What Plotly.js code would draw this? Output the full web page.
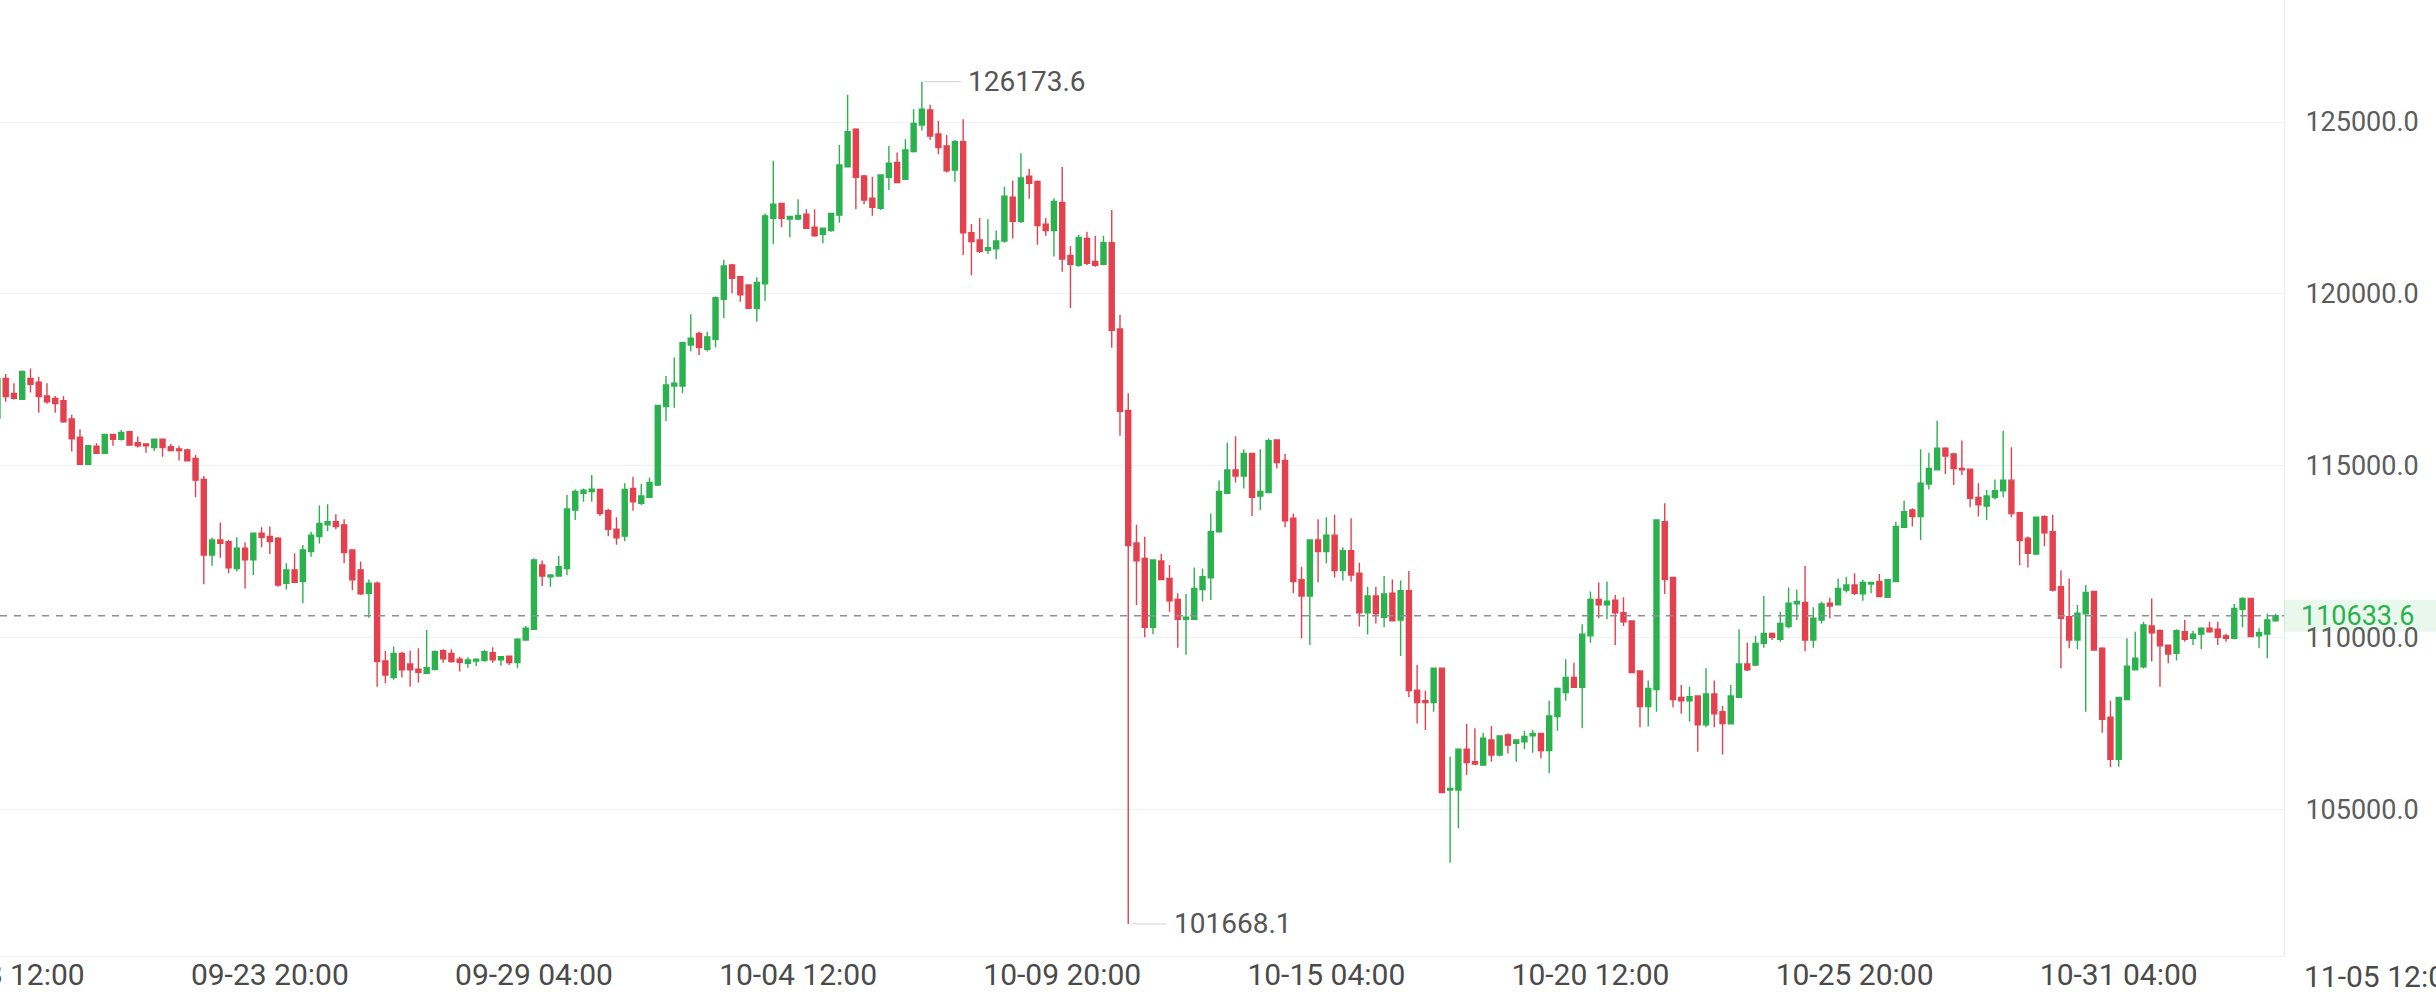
<!DOCTYPE html>
<html>
<head>
<meta charset="utf-8">
<script src="https://cdn.plot.ly/plotly-3.0.1.min.js"></script>
<style>
  html, body { margin: 0; padding: 0; background: #ffffff; overflow: hidden; }
  #chart { width: 2436px; height: 992px; }
</style>
</head>
<body>
<div id="chart"></div>
<script>
// 4-hour candles, first candle 2025-09-18 08:00
const START_TIME = "2025-09-18T08:00:00Z";
const INTERVAL_HOURS = 4;

const OPEN = [
116390,117540,117100,116930,117540,117430,117030,116960,116890,116360,
115830,115040,115570,115360,115910,115770,115990,115670,115630,115530,
115770,115550,115490,115460,115210,114600,112400,112840,112790,112010,
112600,112260,113040,112940,112890,111580,111970,111630,112500,112940,
113280,113370,113280,112550,111970,111290,111580,109320,108840,109540,
109230,109080,108960,109080,109620,109540,109370,109250,109320,109330,
109560,109350,109460,109270,109930,110240,112110,111770,111790,112010,
113710,114200,114250,114310,113690,113150,112950,114340,113910,114080,
114440,116720,117320,117320,118510,118850,118390,118680,119840,120840,
120500,120260,119580,120290,122200,122630,122180,122180,122320,121940,
121730,121840,122290,123700,124790,123430,122780,122490,123390,123820,
123330,124140,124910,125350,124650,124300,123600,124430,121780,121570,
121270,121310,121540,122810,122110,123420,123270,122030,121840,122660,
121120,120830,121610,120940,120860,121490,118980,116610,112750,112300,
110300,112230,111720,111110,110530,110530,111400,111740,113080,114200,
114880,114700,115360,114120,114220,115750,115150,113470,111680,111210,
112840,112500,112980,111950,112530,111870,110720,111210,110590,111290,
110510,111360,108470,108160,108110,109110,105560,105560,106750,106390,
106290,107020,106580,107170,106920,106970,107140,107210,106710,107700,
108400,108840,108550,110050,111110,110950,111090,110720,110480,109030,
107990,108490,113370,111750,108260,108160,108300,107460,108360,107840,
107490,108260,109230,109200,109830,110120,109950,110320,110980,111020,
109930,110510,111000,110950,111380,111530,111270,111560,111630,111170,
111630,113210,113710,113520,114470,114880,115510,115340,114920,114900,
114080,113830,114080,114270,114580,113630,112890,112430,113520,113080,
111480,110610,109930,110690,111340,109690,107680,106460,108200,109060,
109150,110340,110200,109780,109540,110170,109980,110100,110270,110240,
110050,109980,110820,111140,110050,110100,110490
];

const HIGH = [
117700,117670,117400,117770,117830,117590,117400,117030,117030,116480,
116060,115600,115650,115920,115910,116040,116020,115850,115650,115770,
115770,115630,115580,115490,115310,114700,112910,113350,112840,112920,
112770,113050,113210,113230,112920,112160,112450,112690,113080,113840,
113880,113590,113440,112570,112210,111690,111630,109610,109740,109590,
109620,109690,110220,109620,109660,109660,109440,109430,109370,109640,
109720,109460,109480,109980,110340,112310,112240,111840,112370,114150,
114310,114340,114730,114340,113750,113500,114490,114680,114470,114660,
116770,117610,118150,118610,119410,118900,118900,119920,120990,120870,
120520,120280,120480,122340,123870,122650,122250,122750,122460,122460,
121910,122360,124330,125790,124820,123460,123410,123480,124300,124110,
124500,125370,126173.6,125500,125040,124620,124480,125080,122030,122210,
122170,121840,123120,123300,124090,123640,123300,122210,122780,123690,
121390,121720,121810,121690,121690,122440,119390,117110,113280,112930,
112280,112430,112110,111290,111270,112040,112010,113610,114570,115670,
115860,115480,115380,115480,115800,115770,115340,113610,112060,112860,
113440,113500,113570,112630,113470,112180,111480,111480,111790,111690,
111660,111940,109200,108450,109130,109130,106540,106780,107490,107360,
107230,107430,107140,107210,107020,107280,107310,107230,108160,108550,
109370,109270,110390,111340,111600,111630,111240,111170,110500,109030,
108750,113440,113910,111760,108620,108570,108300,109110,108750,108010,
108620,110240,109850,110050,111210,110150,110750,111460,111400,112080,
110880,111050,111160,111720,111770,111870,111680,111620,111850,111680,
113370,113980,113760,115480,115380,116310,115540,115380,115730,114900,
114490,114290,114600,116020,115540,113660,112940,113520,113560,113570,
111950,111720,110950,111530,111360,109720,108160,108280,109980,110170,
110460,111140,110240,109800,110240,110510,110200,110300,110460,110460,
110110,110980,111170,111160,110270,110690,110690
];

const LOW = [
116300,116860,116930,116910,117130,116540,116800,116540,116250,115410,
115040,115020,115360,115340,115580,115730,115580,115530,115380,115430,
115260,115410,115150,115120,114080,111550,112090,112320,111870,111920,
111430,111820,112630,112430,111480,111400,111600,111000,112350,112740,
113100,113150,112160,111380,111240,110580,108570,108670,108770,108840,
108570,108690,108940,109040,109270,109270,109010,109120,109170,109300,
109270,109180,109200,109110,109910,110220,111500,111480,111770,111820,
113420,113950,113950,113540,112950,112700,112800,113690,113860,114050,
114410,116300,116690,117110,118320,118220,118320,118440,119290,120020,
119770,119580,119190,119800,121440,121940,121650,122150,121910,121660,
121470,121810,122070,123680,122460,122610,122270,122440,123020,123220,
123310,124110,124750,124480,124060,123530,123260,121130,120540,121190,
121160,121010,121490,121610,122060,122770,121430,121690,121090,120640,
119590,120790,120830,120790,120830,118430,115870,101668.1,110950,110010,
110100,111690,110750,109700,109500,110510,111050,111090,113060,114180,
114510,114340,113540,113710,114200,114920,113210,111290,109980,109780,
111610,112160,111750,111660,111630,110320,110090,110410,110300,110480,
109460,108260,107500,107310,107840,105470,103450,104450,106000,106290,
106260,106390,106540,106630,106390,106750,106650,106490,106050,107290,
108160,108550,107360,109850,110560,110530,109780,110340,108980,107390,
107410,107840,111270,107970,107780,107550,106680,107390,107390,106600,
107480,108240,109030,109170,109700,109930,109880,110270,110510,109600,
109700,110410,110560,110930,111310,111240,111070,111290,111170,111170,
111620,113180,113230,112840,114310,114860,114760,114440,114730,113790,
113520,113420,114020,114080,113500,112110,112040,112400,112660,111340,
109110,109690,109660,107840,109620,107230,106230,106240,108180,109040,
109100,109300,108570,109250,109330,109880,109780,109660,110140,109780,
109880,109950,110300,110010,109690,109400,110460
];

const CLOSE = [
117540,117010,116960,117740,117370,117010,116860,116810,116280,115780,
115040,115580,115360,115910,115770,115970,115600,115580,115580,115770,
115530,115440,115440,115140,114580,112400,112840,112740,112030,112600,
112260,113040,112920,112790,111530,111970,111610,112550,112980,113320,
113370,113230,112470,111680,111270,111580,109300,108910,109540,109060,
109060,108990,109120,109590,109380,109300,109280,109350,109370,109590,
109350,109440,109270,109950,110270,112260,111790,111820,112060,113740,
114250,114290,114320,113610,113150,112900,114310,113950,114120,114510,
116750,117350,117400,118580,118710,118440,118750,119890,120810,120450,
119970,119580,120330,122270,122610,122200,122250,122280,121910,121690,
121910,122340,123750,124720,123390,122730,122520,123460,123800,123240,
124190,124960,125370,124590,124260,123580,124430,121780,121520,121240,
121340,121540,122840,122110,123370,123220,121990,121840,122690,121010,
120860,121640,120890,120830,121490,118940,116580,112680,112230,110300,
112260,111690,111070,110530,110590,111430,111770,113080,114250,114880,
114700,115360,114080,114250,115730,115090,113400,111630,111210,112840,
112500,112980,111950,112530,111820,110720,111210,110690,111270,110490,
111360,108460,108110,108110,109110,105490,105610,106750,106360,106320,
107070,106580,107140,106870,107020,107120,107210,106710,107720,108520,
108840,108550,110100,111110,110950,111060,110720,110460,108980,107990,
108520,113420,111690,108200,108160,108280,107460,108360,107780,107500,
108300,109230,109060,109830,110120,110010,110410,111000,111050,109930,
110560,110980,110920,111430,111530,111290,111600,111600,111190,111680,
113230,113660,113520,114490,114920,115510,115280,114920,114880,114050,
113860,114120,114270,114580,113610,112820,112450,113500,113050,111380,
110560,109930,110710,111310,109640,107620,106460,108260,109170,109400,
110370,110140,109760,109520,110200,109950,110100,110270,110170,110010,
109980,110850,111140,110030,110140,110510,110633.6
];

const PRICE_TICKS = [105000, 110000, 115000, 120000, 125000];
const LAST_PRICE = 110633.6;
const X_RANGE = ['2025-09-18 09:14:10', '2025-11-03 12:06:00'];
const EXTRA_TICK = '2025-11-05 12:00';   // tick label that sits past the plot's right edge

const UP = '#2bb24f';
const DOWN = '#e4414f';
const FONT = 'Roboto, "Liberation Sans", Arial, sans-serif';

function fmtTime(ms) {
  const d = new Date(ms);
  const p = n => String(n).padStart(2, '0');
  return d.getUTCFullYear() + '-' + p(d.getUTCMonth() + 1) + '-' + p(d.getUTCDate()) +
         ' ' + p(d.getUTCHours()) + ':' + p(d.getUTCMinutes());
}
const toMs = s => Date.parse(s.replace(' ', 'T') + 'Z');
const t0 = Date.parse(START_TIME);
const TIMES = CLOSE.map((_, i) => fmtTime(t0 + i * INTERVAL_HOURS * 3600000));

const maxHigh = Math.max(...HIGH);
const minLow = Math.min(...LOW);
const iMax = HIGH.indexOf(maxHigh);
const iMin = LOW.indexOf(minLow);

// paper position of the tick label beyond the right edge
const extraPaperX = (toMs(EXTRA_TICK) - toMs(X_RANGE[0])) / (toMs(X_RANGE[1]) - toMs(X_RANGE[0]));
const extraLabel = EXTRA_TICK.slice(5);

const trace = {
  type: 'candlestick',
  x: TIMES, open: OPEN, high: HIGH, low: LOW, close: CLOSE,
  increasing: { line: { color: UP, width: 1.4 }, fillcolor: UP },
  decreasing: { line: { color: DOWN, width: 1.4 }, fillcolor: DOWN },
  whiskerwidth: 0,
  hoverinfo: 'skip',
  showlegend: false
};

const layout = {
  width: 2436, height: 992,
  margin: { l: 0, r: 152, t: 0, b: 36, pad: 0 },
  paper_bgcolor: '#ffffff', plot_bgcolor: '#ffffff',
  showlegend: false,
  hovermode: false,
  boxgap: 0.22, boxgroupgap: 0.22,
  font: { family: FONT, color: '#555555', size: 27 },
  xaxis: {
    type: 'date',
    range: X_RANGE,
    rangeslider: { visible: false },
    tick0: '2025-09-18 12:00', dtick: 128 * 3600000,
    tickformat: '%m-%d %H:%M',
    showgrid: false, zeroline: false,
    showline: true, linecolor: '#edf0f3', linewidth: 1,
    ticks: '', ticklabelstandoff: -8,
    ticklabeloverflow: 'allow',
    tickfont: { family: FONT, size: 30, color: '#4a4a4a' },
    fixedrange: true
  },
  yaxis: {
    side: 'right',
    range: [100735, 128550],
    tickvals: PRICE_TICKS,
    tickformat: '.1f',
    showgrid: true, gridcolor: '#eef1f5', gridwidth: 1,
    zeroline: false,
    showline: true, linecolor: '#e8ebef', linewidth: 1,
    ticks: '', ticklabelstandoff: 15,
    ticklabeloverflow: 'allow',
    tickfont: { family: FONT, size: 27, color: '#5c5c5c' },
    fixedrange: true
  },
  shapes: [
    { type: 'line', xref: 'paper', x0: 0, x1: 1, yref: 'y', y0: LAST_PRICE, y1: LAST_PRICE,
      line: { color: '#8a8f98', width: 1.5, dash: '7px,7px' } },
    { type: 'rect', xref: 'paper', x0: 1, x1: 1.07, yref: 'y', ysizemode: 'pixel',
      yanchor: LAST_PRICE, y0: -16, y1: 16, line: { width: 0 }, fillcolor: 'rgba(43,178,79,0.10)' }
  ],
  annotations: [
    { x: TIMES[iMax], y: maxHigh, xref: 'x', yref: 'y', text: maxHigh.toFixed(1),
      showarrow: true, arrowhead: 0, arrowwidth: 1, arrowcolor: '#cfd2d6',
      ax: 44, ay: 0, standoff: 2, startstandoff: 5, xanchor: 'left', yanchor: 'middle',
      font: { family: FONT, size: 28, color: '#555555' } },
    { x: TIMES[iMin], y: minLow, xref: 'x', yref: 'y', text: minLow.toFixed(1),
      showarrow: true, arrowhead: 0, arrowwidth: 1, arrowcolor: '#cfd2d6',
      ax: 44, ay: 0, standoff: 4, startstandoff: 6, xanchor: 'left', yanchor: 'middle',
      font: { family: FONT, size: 28, color: '#555555' } },
    { x: 1, y: LAST_PRICE, xref: 'paper', yref: 'y', xshift: 15, text: LAST_PRICE.toFixed(1),
      showarrow: false, xanchor: 'left', yanchor: 'middle',
      font: { family: FONT, size: 27, color: UP } },
    { x: extraPaperX, y: 0, xref: 'paper', yref: 'paper', yshift: -20, text: extraLabel,
      showarrow: false, xanchor: 'center', yanchor: 'middle',
      font: { family: FONT, size: 30, color: '#4a4a4a' } }
  ]
};

Plotly.newPlot('chart', [trace], layout, { staticPlot: true, displayModeBar: false });
</script>
</body>
</html>
